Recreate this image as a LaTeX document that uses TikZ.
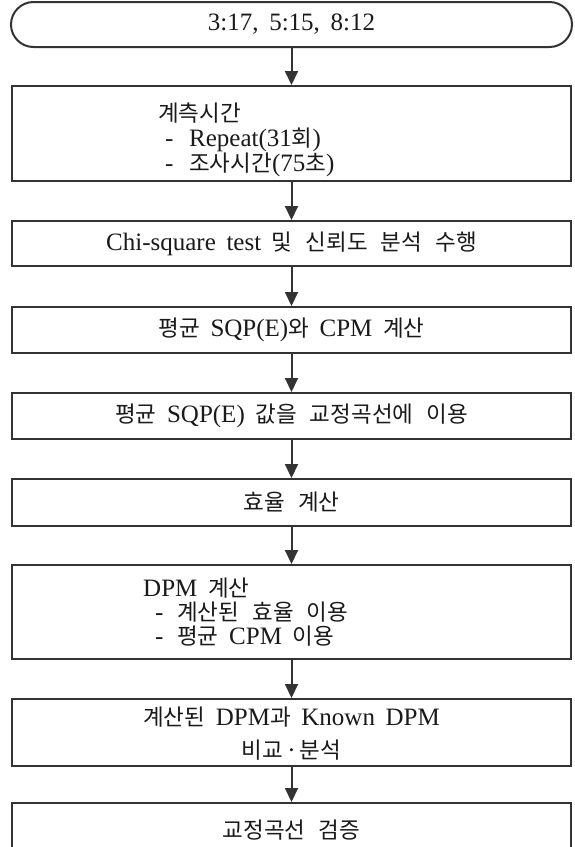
\documentclass[tikz,border=0pt]{standalone}
\usepackage{fontspec}
\setmainfont[WordSpace=1.7]{Liberation Serif}
\newfontfamily\kr[Scale=0.9,WordSpace=2.6]{Noto Sans CJK KR}
\newcommand{\kor}[1]{{\kr #1}}
\usetikzlibrary{arrows.meta}
\definecolor{lc}{HTML}{333333}
\definecolor{tc}{HTML}{1A1A1A}
\begin{document}
\begin{tikzpicture}[x=1pt,y=-1pt,
  box/.style={draw=lc, line width=2pt, minimum width=559pt, inner sep=0pt},
  txt/.style={font=\fontsize{25}{28}\selectfont, text=tc},
  ln/.style={txt, anchor=base west, inner sep=0pt},
  arr/.style={draw=lc, line width=2pt, -{Triangle[width=13pt,length=14pt]}}]
\useasboundingbox (0,0) rectangle (575,847);
\clip (0,0) rectangle (575,847);
\fill[white] (0,0) rectangle (575,847);

\node[box, txt, rounded corners=22.5pt, minimum width=561pt, minimum height=45pt] (b1) at (291.5,24.5) {3:17, 5:15, 8:12};

\node[box, minimum height=95pt] (b2) at (291.5,133.5) {};
\node[ln] (t2a) at (158,121) {\kor{계측시간}};
\node[ln] (t2b) at (165,146) {-};
\node[ln] (t2c) at (189,146) {Repeat(31\kor{회})};
\node[ln] (t2d) at (165,171) {-};
\node[ln] (t2e) at (189,171) {\kor{조사시간}(75\kor{초})};

\node[box, txt, minimum height=45pt] (b3) at (291.5,243.5) {Chi-square test \kor{및 신뢰도 분석 수행}};

\node[box, txt, minimum height=46pt] (b4) at (291.5,330) {\kor{평균} SQP(E)\kor{와} CPM \kor{계산}};

\node[box, txt, minimum height=46pt] (b5) at (291.5,416) {\kor{평균} SQP(E) \kor{값을 교정곡선에 이용}};

\node[box, txt, minimum height=47pt] (b6) at (291.5,502.5) {\kor{효율 계산}};

\node[box, minimum height=94pt] (b7) at (291.5,612) {};
\node[ln] (t7a) at (143,596) {DPM \kor{계산}};
\node[ln] (t7b) at (155,620) {-};
\node[ln] (t7c) at (177,620) {\kor{계산된 효율 이용}};
\node[ln] (t7d) at (155,644) {-};
\node[ln] (t7e) at (177,644) {\kor{평균} CPM \kor{이용}};

\node[box, minimum height=67pt] (b8) at (291.5,732.5) {};
\node[txt, anchor=base, inner sep=0pt] (t8a) at (291.5,725) {\kor{계산된} DPM\kor{과} Known DPM};
\node[txt, anchor=base, inner sep=0pt] (t8b) at (291.5,758) {\kor{비교}\,·\,\kor{분석}};

\node[box, txt, minimum height=54pt] (b9) at (291.5,830) {\kor{교정곡선 검증}};

\draw[arr] (b1.south) -- (b2.north);
\draw[arr] (b2.south) -- (b3.north);
\draw[arr] (b3.south) -- (b4.north);
\draw[arr] (b4.south) -- (b5.north);
\draw[arr] (b5.south) -- (b6.north);
\draw[arr] (b6.south) -- (b7.north);
\draw[arr] (b7.south) -- (b8.north);
\draw[arr] (b8.south) -- (b9.north);
\end{tikzpicture}
\end{document}
